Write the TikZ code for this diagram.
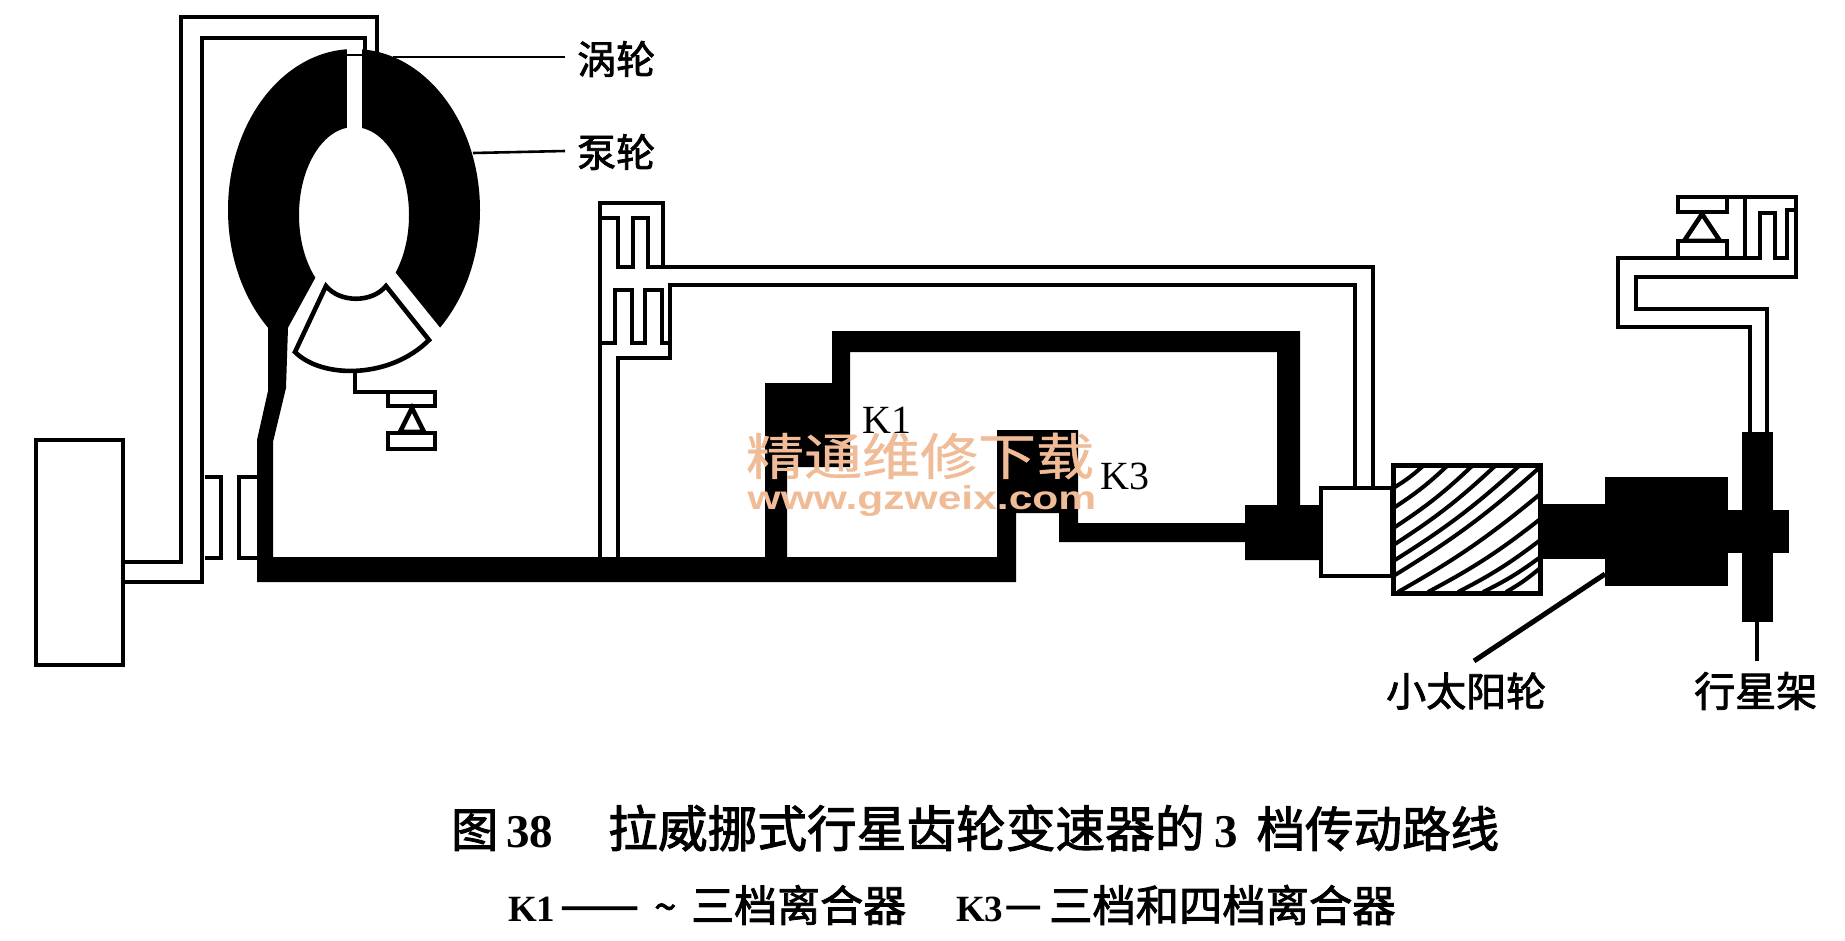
\documentclass[tikz,border=0pt]{standalone}
\usepackage{fontspec}
\usetikzlibrary{calc}
\setmainfont{Liberation Serif}
\newfontfamily\cjkf[FakeBold=2]{Noto Sans CJK SC}
\newfontfamily\cjkwm[FakeBold=0.8]{Noto Sans CJK SC}
\newfontfamily\wmsans{Liberation Sans}
\newcommand{\fs}[1]{\fontsize{#1pt}{#1pt}\selectfont}
\definecolor{wmark}{HTML}{F0BC98}
\tikzset{
  ol/.style={draw=black,line width=4.6pt,line join=miter,fill=none},
  olw/.style={draw=black,line width=4.6pt,line join=miter,fill=white},
  heavy/.style={fill=black,draw=none},
  leader/.style={draw=black,line width=2.6pt},
  hatchline/.style={draw=black,line width=4pt},
  lbl/.style={inner sep=0pt,anchor=west,text=black},
  cjklbl/.style={lbl,font=\cjkf\fs{39}},
  wm/.style={inner sep=0pt,text=wmark,transform shape}
}
\begin{document}
\begin{tikzpicture}[x=1pt,y=-1pt]
\useasboundingbox (0,0) rectangle (1845,940);
\fill[white] (0,0) rectangle (1845,940);

% torque converter ring
\fill[black,even odd rule] (354,210) ellipse [x radius=126,y radius=161]
      (354,215) ellipse [x radius=55,y radius=88];
\fill[white] (317,275) -- (288,328) -- (262,328) -- (262,400) -- (470,400) -- (470,329) -- (441,329) -- (395,272) -- cycle;
\fill[white] (347,46) rectangle (362,130);
\draw[black,line width=1.5pt] (347,55) -- (362,55);

% input double line
\draw[ol] (123,562) -- (181,562) -- (181,17) -- (377,17) -- (377,52);
\draw[ol] (123,582) -- (202,582) -- (202,38) -- (365,38) -- (365,50);
% small hub pieces
\draw[ol] (205,477) -- (221,477) -- (221,558) -- (205,558);
\draw[ol] (257,477) -- (239,477) -- (239,558) -- (257,558);
% engine box
\draw[olw] (36,440) rectangle (123,665);

% stator
\draw[olw] (326,286) .. controls (340,303) and (372,303) .. (386,286) -- (429,340) .. controls (390,379) and (322,379) .. (295,352) -- cycle;
\draw[ol] (355,371) -- (355,392) -- (388,392);
\draw[olw] (388,392) rectangle (435,406);
\draw[olw] (412,408) -- (400,432) -- (424,432) -- cycle;
\draw[olw] (388,433) rectangle (435,449);

% main black shaft, turbine hub
\fill[heavy] (268,328) -- (288,328) -- (286,388) -- (273,442) -- (273,557) -- (765,557) -- (765,383) -- (832,383) -- (832,331) -- (1300,331) -- (1300,506) -- (1277,506) -- (1277,352) -- (850,352) -- (850,467) -- (787,467) -- (787,557) -- (997,557) -- (997,430) -- (1078,430) -- (1078,523) -- (1245,523) -- (1245,505) -- (1321,505) -- (1321,560) -- (1245,560) -- (1245,542) -- (1059,542) -- (1059,513) -- (1016,513) -- (1016,582) -- (257,582) -- (257,440) -- (268,391) -- cycle;

% K2 clutch and its drum
\draw[ol] (600,557) -- (600,203) -- (663,203) -- (663,267);
\draw[ol] (600,218) -- (618,218) -- (618,267) -- (633,267) -- (633,218) -- (648,218) -- (648,267) -- (1373,267) -- (1373,488);
\draw[ol] (600,343) -- (615,343) -- (615,290) -- (632,290) -- (632,343) -- (645,343) -- (645,290) -- (662,290) -- (662,343) -- (670,343);
\draw[ol] (1355,488) -- (1355,285) -- (670,285) -- (670,358) -- (618,358) -- (618,557);

% sun gear parts
\draw[olw] (1321,488) rectangle (1392,576);
\fill[heavy] (1540,504) rectangle (1605,559);
\fill[heavy] (1605,477) rectangle (1728,586);
\fill[heavy] (1728,510) rectangle (1789,553);
\fill[heavy] (1742,432) rectangle (1773,622);

% hatched planet gear
\begin{scope}
\clip (1393,465) rectangle (1540,593);
\foreach \xa/\ya/\xb/\yb in {1395/487/1423/466,1395/507/1447/466,1395/527/1472/466,1395/544/1495/466,1395/560/1519/466,1395/575/1539/468,1398/592/1539/495,1428/592/1539/520,1458/592/1539/541,1483/592/1539/558,1506/592/1539/569}
  \draw[hatchline] (\xa,\ya) to[bend right=5] (\xb,\yb);
\end{scope}
\draw[ol,line width=5pt] (1393,465) rectangle (1540,593);

% upper right brake and clutch
\draw[ol] (1750,432) -- (1750,327) -- (1618,327) -- (1618,258) -- (1745,258) -- (1760,258) -- (1760,213) -- (1775,213) -- (1775,258) -- (1787,258) -- (1787,210) -- (1797,210);
\draw[ol] (1767,432) -- (1767,309) -- (1636,309) -- (1636,277) -- (1796,277) -- (1796,197) -- (1678,197);
\draw[ol] (1745,197) -- (1745,258);
\draw[olw] (1678,197) rectangle (1727,212);
\draw[olw] (1702,214) -- (1684,241) -- (1720,241) -- cycle;
\draw[olw] (1678,241) rectangle (1727,258);

% labels
\node[cjklbl] (wolun) at (577,59) {涡轮};
\node[cjklbl] (bengl) at (577,152) {泵轮};
\coordinate (wolunA) at (393,57);
\coordinate (benglA) at (473,153);
\coordinate (wolunB) at (565,57);
\coordinate (benglB) at (565,151);
\draw[leader] (wolunA) -- (wolunB);
\draw[leader] (benglA) -- (benglB);

\node[lbl,font=\fs{40}] (kone) at (862,420) {K1};
\node[lbl,font=\fs{40}] (kthree) at (1100,476) {K3};

\node[cjklbl,font=\cjkf\fs{40}] (sun) at (1386,691) {小太阳轮};
\node[cjklbl,font=\cjkf\fs{41}] (carrier) at (1694,691) {行星架};
\coordinate (sunA) at (1605,574);
\coordinate (sunB) at (1474,661);
\coordinate (carA) at (1757,622);
\coordinate (carB) at (1757,661);
\draw[black,line width=5pt] (sunA) -- (sunB);
\draw[black,line width=4pt] (carA) -- (carB);

% caption
\node[lbl] (capa) at (451,828) {\makebox[55pt][l]{\cjkf\fs{47}图}\makebox[102pt][l]{\bfseries\fs{47}38}{\cjkf\fs{49.7}拉威挪式行星齿轮变速器的}\hspace{10pt}\makebox[42pt][l]{\bfseries\fs{47}3}{\cjkf\fs{48.5}档传动路线}};
\node[lbl] (capb) at (508,905) {\makebox[52pt][l]{\bfseries\fs{37}K1}\makebox[94pt][l]{\cjkf\fs{47}——}\makebox[37pt][l]{\cjkf\fs{40}\textasciitilde}{\cjkf\fs{43}三档离合器}};
\node[lbl] (capc) at (956,905) {\makebox[49pt][l]{\bfseries\fs{37}K3}\makebox[44pt][l]{\cjkf\fs{36}一}{\cjkf\fs{43.3}三档和四档离合器}};

% watermark
\node[wm,font=\cjkwm\fs{50},xscale=1.16] (wma) at (920,456) {精通维修下载};
\node[wm,font=\wmsans\bfseries\fs{33},xscale=1.29] (wmb) at (922,501) {www.gzweix.com};
\end{tikzpicture}
\end{document}
